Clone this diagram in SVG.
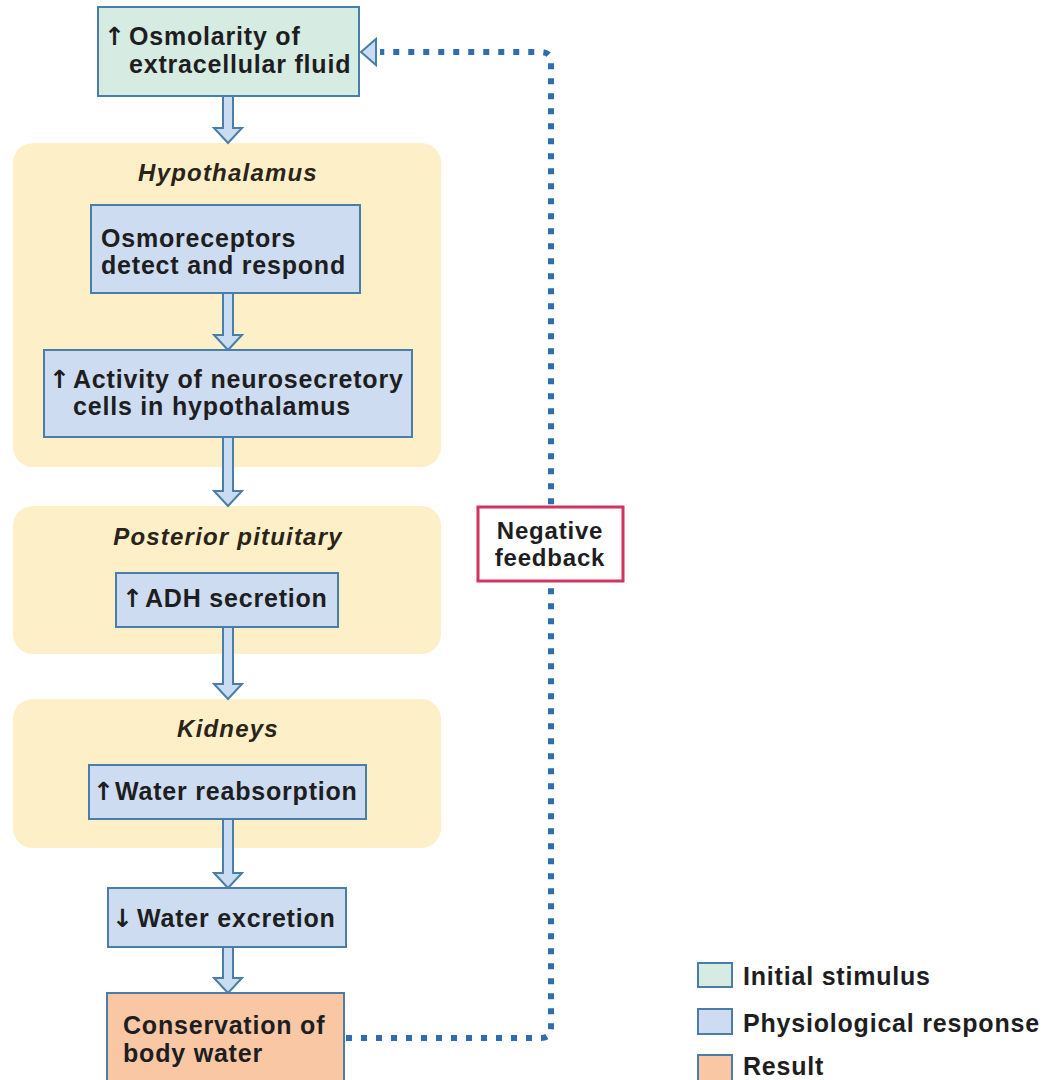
<svg xmlns="http://www.w3.org/2000/svg" width="1046" height="1080" viewBox="0 0 1046 1080">
<style>
  .t { font-family: "Liberation Sans", Arial, sans-serif; font-weight: bold; font-size: 25px; letter-spacing: 0.8px; fill: #1e1e22; }
  .h { font-family: "Liberation Sans", Arial, sans-serif; font-weight: bold; font-style: italic; font-size: 24px; letter-spacing: 1.2px; fill: #2a2418; text-anchor: middle; }
  .ar { font-family: "DejaVu Sans", "Liberation Sans", sans-serif; font-weight: bold; font-size: 25px; letter-spacing: 0; fill: #1e1e22; }
  .panel { fill: #fdefc8; }
  .stim { fill: #d6ece2; stroke: #4b7ea6; stroke-width: 2; }
  .phys { fill: #cddcf0; stroke: #4b7ea6; stroke-width: 2; }
  .res { fill: #f9c7a3; stroke: #4b7ea6; stroke-width: 2; }
  .blk { fill: #c9dcf2; stroke: #4b7ea6; stroke-width: 2; stroke-linejoin: miter; }
  .dots { fill: none; stroke: #2e6db0; stroke-width: 6; stroke-dasharray: 6 9; }
</style>
<rect width="1046" height="1080" fill="#ffffff"/>

<g id="panel-hypothalamus">
  <rect class="panel" x="13" y="143" width="428" height="324" rx="20"/>
  <text class="h" x="228" y="181">Hypothalamus</text>
</g>
<g id="panel-pituitary">
  <rect class="panel" x="13" y="506" width="428" height="148" rx="20"/>
  <text class="h" x="228" y="545">Posterior pituitary</text>
</g>
<g id="panel-kidneys">
  <rect class="panel" x="13" y="699" width="428" height="149" rx="20"/>
  <text class="h" x="228" y="737">Kidneys</text>
</g>

<g id="connectors">
  <path class="dots" d="M 346,1038 H 541 Q 551,1038 551,1028 V 62 Q 551,52 541,52 H 380"/>
  <polygon class="blk" points="361,52 376,39 376,65"/>
  <path class="blk" d="M 223,95 V 128 H 214 L 228,143 L 242,128 H 233 V 95"/>
  <path class="blk" d="M 223,292 V 335 H 214 L 228,350 L 242,335 H 233 V 292"/>
  <path class="blk" d="M 223,436 V 491 H 214 L 228,506 L 242,491 H 233 V 436"/>
  <path class="blk" d="M 223,626 V 684 H 214 L 228,699 L 242,684 H 233 V 626"/>
  <path class="blk" d="M 223,818 V 873 H 214 L 228,888 L 242,873 H 233 V 818"/>
  <path class="blk" d="M 223,946 V 978 H 214 L 228,993 L 242,978 H 233 V 946"/>
</g>

<g id="node-osmolarity">
  <rect class="stim" x="98" y="7" width="261" height="89"/>
  <text class="t"><tspan class="ar" x="104" y="45">↑</tspan><tspan x="129" y="45">Osmolarity of</tspan><tspan x="129" y="73">extracellular fluid</tspan></text>
</g>
<g id="node-osmoreceptors">
  <rect class="phys" x="91" y="205" width="269" height="88"/>
  <text class="t"><tspan x="101" y="247">Osmoreceptors</tspan><tspan x="101" y="274">detect and respond</tspan></text>
</g>
<g id="node-neurosecretory">
  <rect class="phys" x="44" y="350" width="368" height="87"/>
  <text class="t"><tspan class="ar" x="49" y="388">↑</tspan><tspan x="73" y="388">Activity of neurosecretory</tspan><tspan x="73" y="415">cells in hypothalamus</tspan></text>
</g>
<g id="node-adh">
  <rect class="phys" x="116" y="573" width="222" height="54"/>
  <text class="t"><tspan class="ar" x="122" y="607">↑</tspan><tspan x="145" y="607">ADH secretion</tspan></text>
</g>
<g id="node-reabsorption">
  <rect class="phys" x="89" y="765" width="277" height="54"/>
  <text class="t"><tspan class="ar" x="93" y="800">↑</tspan><tspan x="115" y="800">Water reabsorption</tspan></text>
</g>
<g id="node-excretion">
  <rect class="phys" x="108" y="888" width="238" height="59"/>
  <text class="t"><tspan class="ar" x="112" y="927">↓</tspan><tspan x="137" y="927">Water excretion</tspan></text>
</g>
<g id="node-conservation">
  <rect class="res" x="107" y="993" width="237" height="92"/>
  <text class="t"><tspan x="123" y="1034">Conservation of</tspan><tspan x="123" y="1062">body water</tspan></text>
</g>

<g id="node-negative-feedback">
  <rect x="478" y="507" width="145" height="74" fill="#ffffff" stroke="#d2335f" stroke-width="3"/>
  <text class="t" style="font-size:24px" text-anchor="middle"><tspan x="550" y="539">Negative</tspan><tspan x="550" y="566">feedback</tspan></text>
</g>

<g id="legend">
  <rect class="stim" x="698" y="963" width="34" height="24"/>
  <text class="t" x="743" y="985">Initial stimulus</text>
  <rect class="phys" x="698" y="1009" width="34" height="25"/>
  <text class="t" x="743" y="1032">Physiological response</text>
  <rect class="res" x="698" y="1055" width="34" height="26"/>
  <text class="t" x="743" y="1075">Result</text>
</g>
</svg>
